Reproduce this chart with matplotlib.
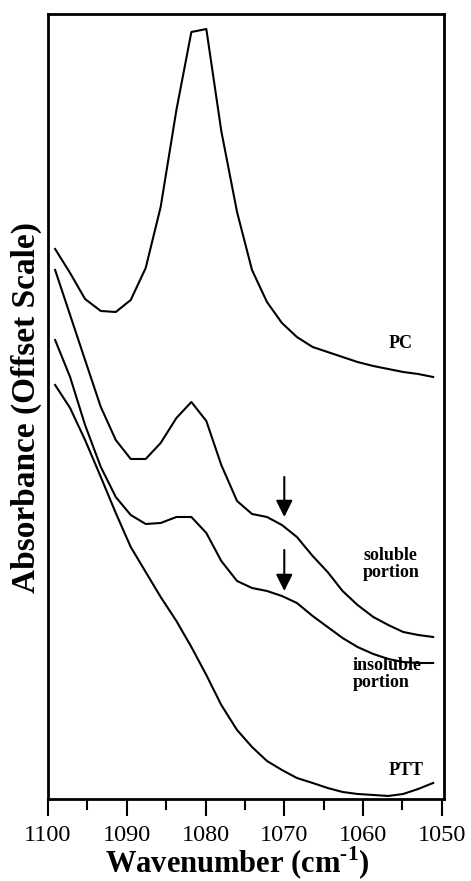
import matplotlib
matplotlib.use("Agg")
import matplotlib.pyplot as plt
from matplotlib.ticker import MultipleLocator

plt.rcParams["font.family"] = ["Liberation Serif", "DejaVu Serif"]
plt.rcParams["mathtext.fontset"] = "custom"
plt.rcParams["mathtext.rm"] = "Liberation Serif"
plt.rcParams["mathtext.bf"] = "Liberation Serif:bold"

# wavenumbers of the sampled points (cm-1)
wavenumber = [1099.1, 1097.2, 1095.3, 1093.3, 1091.4, 1089.5, 1087.6, 1085.7,
              1083.7, 1081.8, 1079.9, 1078.0, 1076.0, 1074.1, 1072.2, 1070.3,
              1068.4, 1066.4, 1064.5, 1062.6, 1060.7, 1058.7, 1056.8, 1054.9,
              1053.0, 1051.1]

# absorbance, already shifted so the spectra don't overlap
pc = [550, 526, 500, 488, 487, 499, 531, 592, 689, 767, 770, 668, 587, 529,
      497, 476, 462, 452, 447, 442, 437, 433, 430, 427, 425, 422]
soluble = [529, 484, 439, 392, 359, 340, 340, 356, 381, 397, 378, 334, 298,
           285, 282, 274, 262, 243, 227, 208, 194, 182, 174, 167, 164, 162]
insoluble = [459, 422, 374, 332, 302, 284, 275, 276, 282, 282, 266, 238, 218,
             211, 208, 203, 196, 183, 172, 161, 152, 145, 140, 137, 136, 136]
ptt = [414, 391, 359, 322, 286, 252, 227, 202, 178, 152, 124, 94, 69, 52, 38,
       29, 21, 16, 11, 7, 5, 4, 3, 5, 10, 16]

spectra = [pc, soluble, insoluble, ptt]
labels = [("PC", 1056.8, 451),
          ("soluble\nportion", 1060.0, 222),
          ("insoluble\nportion", 1061.3, 112),
          ("PTT", 1056.8, 24)]

# arrows marking the 1070 shoulder: (x, tail, tip)
arrows = [(1070, 322, 282), (1070, 249, 208)]

fig = plt.figure(figsize=(4.71, 8.81), dpi=100)
ax = fig.add_axes([0.102, 0.0931, 0.841, 0.891])

for s in spectra:
    ax.plot(wavenumber, s, color="black", linewidth=1.5)

for txt, x, y in labels:
    ax.text(x, y, txt, fontsize=13, fontweight="bold", ha="left",
            va="baseline", linespacing=1.0)

for x, y0, y1 in arrows:
    ax.annotate("", xy=(x, y1), xytext=(x, y0),
                arrowprops=dict(arrowstyle="-|>,head_length=1.0,head_width=0.5",
                                color="black", lw=1.5, shrinkA=0, shrinkB=0))

ax.set_xlim(1100, 1049.7)
ax.set_ylim(0, 785)
ax.xaxis.set_major_locator(MultipleLocator(10))
ax.xaxis.set_minor_locator(MultipleLocator(5))
ax.tick_params(axis="x", which="major", direction="out", length=12.5,
               width=1.5, labelsize=17.5, pad=6)
ax.tick_params(axis="x", which="minor", direction="out", length=8, width=1.5)
ax.set_yticks([])
for sp in ax.spines.values():
    sp.set_linewidth(2)

fig.text(0.057, 0.538, "Absorbance (Offset Scale)", rotation=90,
         fontsize=24, fontweight="bold", ha="center", va="center")
# hyphen (U+2010) keeps the superscript short instead of a math minus
fig.text(0.503, 0.0085, "Wavenumber (cm$^{\\mathbf{\u2010}\\mathbf{1}}$)",
         fontsize=22, fontweight="bold", ha="center", va="baseline")

fig.savefig("out.png", dpi=100)
